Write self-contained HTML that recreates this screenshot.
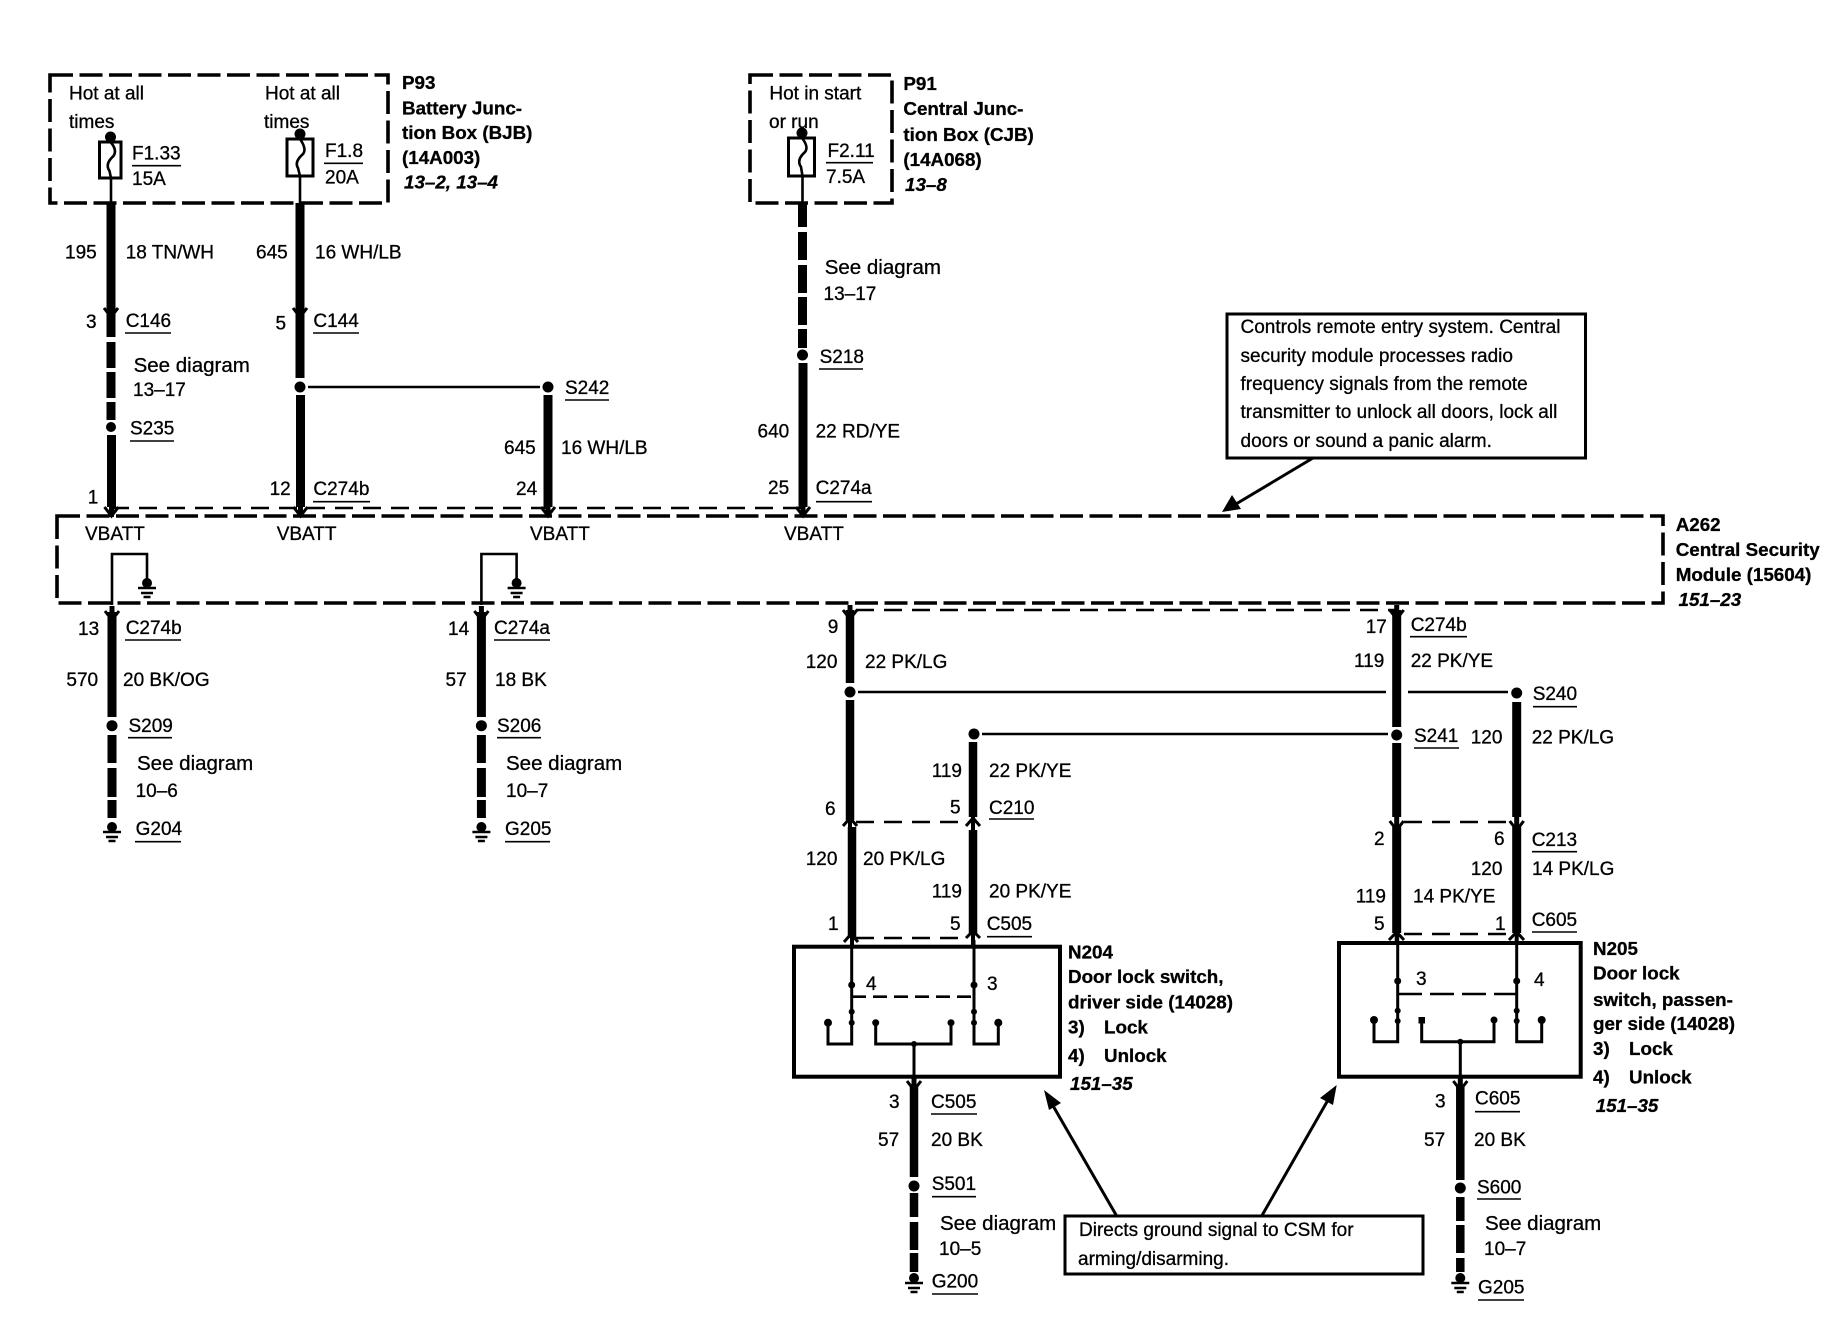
<!DOCTYPE html>
<html><head><meta charset="utf-8"><style>
html,body{margin:0;padding:0;background:#fff}
svg{display:block}
text{font-family:"Liberation Sans",sans-serif;font-size:19px;fill:#000;stroke:#000;stroke-width:.3}
.b{font-weight:bold;font-size:18.8px;stroke-width:.3}
.i{font-weight:bold;font-style:italic;font-size:18.8px}
.sd{font-size:20.5px}
.t{stroke:#000;stroke-width:9;fill:none}
.w{stroke:#000;stroke-width:2.6;fill:none}
.m{stroke:#000;stroke-width:3;fill:none}
.u{stroke:#000;stroke-width:1.6;fill:none}
.d{stroke:#000;stroke-width:3.6;fill:none;stroke-dasharray:23 6.5}
.h{stroke:#000;stroke-width:2.6;fill:none;stroke-dasharray:18 10}
.a{stroke:#000;stroke-width:3;fill:none}
.s{stroke:#000;stroke-width:3;fill:none}
</style></head><body>
<svg width="1836" height="1344" viewBox="0 0 1836 1344" xmlns="http://www.w3.org/2000/svg">
<defs>
<g id="y"><path d="M-7-7L0 2L7-7" stroke="#000" stroke-width="3" fill="none"/><path d="M0-12V3" stroke="#000" stroke-width="5"/></g>
<g id="g"><circle cx="0" cy="0" r="5" fill="#000"/><path d="M-9 5H9M-6 10H6M-3.5 14H3.5" stroke="#000" stroke-width="2.4"/></g>
</defs>
<rect width="1836" height="1344" fill="#fff"/>

<!-- P93 box -->
<rect class="d" x="50" y="75" width="338" height="128"/>
<text x="69" y="99.5">Hot at all</text><text x="69" y="128">times</text>
<text x="265" y="99.5">Hot at all</text><text x="264" y="128">times</text>
<circle cx="110.5" cy="137" r="5.5"/><circle cx="300" cy="134" r="5.5"/>
<rect class="m" x="99.5" y="142" width="21.5" height="36"/>
<rect class="m" x="287" y="139" width="26" height="37"/>
<path class="w" d="M110.5 137V142q7 8 3 14q-9 8-4 15l1.5 7V203"/>
<path class="w" d="M300 134V139q7 10 3 15q-9 8-5 14l2 8V203"/>
<text x="132" y="159.5">F1.33</text><path class="u" d="M132 165.7H181"/><text x="132" y="185">15A</text>
<text x="325" y="157">F1.8</text><path class="u" d="M324 163.3H363"/><text x="325" y="183.5">20A</text>
<text class="b" x="402" y="89">P93</text>
<text class="b" x="402" y="114.5">Battery Junc-</text>
<text class="b" x="402" y="139">tion Box (BJB)</text>
<text class="b" x="402" y="164">(14A003)</text>
<text class="i" x="404" y="188.5">13–2, 13–4</text>

<!-- left wires top -->
<path class="t" d="M111 203V337M111 342V368M111 372V398M111 402V420M111.5 435V507"/>
<circle cx="111" cy="427" r="5"/>
<use href="#y" x="111" y="315"/>
<path class="t" d="M300 203V378M300.5 395V507"/>
<use href="#y" x="300" y="315"/>
<circle cx="300" cy="387" r="5.5"/>
<path class="w" d="M308 387H540"/>
<circle cx="548" cy="387" r="5.5"/>
<path class="t" d="M548 395V507"/>
<path class="t" d="M802.5 203V227M802.5 232V260M802.5 265V293M802.5 297V325M802.5 329V348M803 363V507"/>
<circle cx="802.5" cy="355" r="5.5"/>

<text x="65" y="258.5">195</text><text x="125.7" y="258.5">18 TN/WH</text>
<text x="256" y="258.5">645</text><text x="315" y="258.5">16 WH/LB</text>
<text x="86" y="328">3</text><text x="125.7" y="327">C146</text><path class="u" d="M125 333H171"/>
<text x="275.5" y="329.5">5</text><text x="313.4" y="327">C144</text><path class="u" d="M313 333H359"/>
<text class="sd" x="133.6" y="372">See diagram</text><text x="133" y="396">13–17</text>
<text x="130" y="434.5">S235</text><path class="u" d="M130 441H174"/>
<text x="565" y="394">S242</text><path class="u" d="M565 400H609"/>
<text x="504" y="454">645</text><text x="561" y="454">16 WH/LB</text>
<text x="87.7" y="503.5">1</text>
<text x="269.6" y="495">12</text><text x="313.4" y="495">C274b</text><path class="u" d="M313 501.7H370"/>
<text x="516" y="495">24</text>

<!-- P91 -->
<rect class="d" x="750" y="75" width="142" height="128"/>
<text x="769.4" y="99.5">Hot in start</text><text x="769" y="128">or run</text>
<circle cx="802" cy="133" r="5.5"/>
<rect class="m" x="788.5" y="138" width="26" height="38"/>
<path class="w" d="M802 133V138q7 9 3 14q-9 8-4 15l1.5 9V203"/>
<text x="827.5" y="157">F2.11</text><path class="u" d="M826 162.7H873"/><text x="826" y="183">7.5A</text>
<text class="b" x="903.4" y="90">P91</text>
<text class="b" x="903.4" y="115">Central Junc-</text>
<text class="b" x="903.4" y="141">tion Box (CJB)</text>
<text class="b" x="903.4" y="166">(14A068)</text>
<text class="i" x="905" y="191">13–8</text>
<text class="sd" x="824.7" y="274">See diagram</text><text x="823.5" y="300">13–17</text>
<text x="819.6" y="363">S218</text><path class="u" d="M819 369H863"/>
<text x="757.5" y="437.5">640</text><text x="815.6" y="437.5">22 RD/YE</text>
<text x="768" y="494">25</text><text x="815.6" y="494">C274a</text><path class="u" d="M816 501.7H872"/>

<!-- note 1 -->
<rect class="s" x="1227" y="314" width="358.5" height="144"/>
<text x="1240.5" y="333">Controls remote entry system. Central</text>
<text x="1240.5" y="362">security module processes radio</text>
<text x="1240.5" y="390">frequency signals from the remote</text>
<text x="1240.5" y="418">transmitter to unlock all doors, lock all</text>
<text x="1240.5" y="447">doors or sound a panic alarm.</text>
<path class="a" d="M1313 458L1236 504"/>
<path d="M1222 512L1232 495L1241 509Z" fill="#000"/>

<!-- module -->
<rect class="d" x="57" y="516" width="1606" height="87"/>
<path class="h" d="M111 508H806"/>
<path class="h" d="M856 610H1397"/>
<use href="#y" x="111.5" y="514"/><use href="#y" x="300.5" y="514"/><use href="#y" x="548" y="514"/><use href="#y" x="803" y="514"/>
<text x="85" y="540">VBATT</text><text x="276.7" y="540">VBATT</text><text x="530" y="540">VBATT</text><text x="784" y="540">VBATT</text>
<text class="b" x="1675.7" y="531">A262</text>
<text class="b" x="1675.7" y="556">Central Security</text>
<text class="b" x="1675.7" y="581">Module (15604)</text>
<text class="i" x="1678.5" y="606">151–23</text>

<!-- lower left -->
<path class="w" d="M112 605V554H147V583"/>
<path class="w" d="M481.4 605V554H516.6V583"/>
<use href="#g" x="147" y="583"/><use href="#g" x="516.6" y="583"/>
<path class="t" d="M112 612V717M112 735V763M112 768V797M112 800V818"/>
<path class="t" d="M481.4 612V717M481.4 735V763M481.4 768V797M481.4 800V818"/>
<use href="#y" x="112" y="618"/><use href="#y" x="481.4" y="618"/>
<circle cx="112" cy="725.7" r="5.5"/><circle cx="481.4" cy="725.7" r="5.5"/>
<use href="#g" x="112" y="827"/><use href="#g" x="481.4" y="827"/>
<text x="78" y="635">13</text><text x="125.7" y="634">C274b</text><path class="u" d="M125 640H181"/>
<text x="448" y="635">14</text><text x="494" y="634">C274a</text><path class="u" d="M494 640H550"/>
<text x="66.4" y="686">570</text><text x="123" y="686">20 BK/OG</text>
<text x="445.5" y="686">57</text><text x="495" y="686">18 BK</text>
<text x="128.5" y="732">S209</text><path class="u" d="M128 737.7H172"/>
<text x="497" y="732">S206</text><path class="u" d="M497 737.7H541"/>
<text class="sd" x="137" y="770">See diagram</text><text x="135.6" y="797">10–6</text>
<text class="sd" x="506" y="770">See diagram</text><text x="506" y="797">10–7</text>
<text x="135.6" y="835">G204</text><path class="u" d="M135 841.7H181"/>
<text x="505" y="835">G205</text><path class="u" d="M505 841.7H550"/>

<!-- middle wires -->
<path class="t" style="stroke-width:8.5" d="M850 610V683M850 700V820M852 827V938"/>
<use href="#y" x="850" y="617"/>
<circle cx="850" cy="692" r="5.5"/>
<path class="w" d="M858 692H1386M1408 692H1508"/>
<circle cx="974" cy="734" r="5.5"/>
<path class="w" d="M982 734H1388"/>
<path class="t" style="stroke-width:8.500" d="M973 742V817M973 830V933"/>
<path class="h" d="M856 822H968M856 938H968"/>
<path d="M850 815V830M973 815V832M852 934V948M973 930V948" stroke="#000" stroke-width="4" fill="none"/>
<path d="M843 826L850 818L857 826M966 826L973 818L980 826M844 942L851 934L858 942M966 938L973 931L980 938" stroke="#000" stroke-width="3" fill="none"/>
<text x="827.7" y="633">9</text><text x="805.7" y="668">120</text><text x="865" y="668">22 PK/LG</text>
<text x="931.7" y="777">119</text><text x="989" y="777">22 PK/YE</text>
<text x="825" y="815">6</text><text x="950" y="813.7">5</text>
<text x="989" y="814">C210</text><path class="u" d="M989 819H1034"/>
<text x="805.7" y="865">120</text><text x="863" y="865">20 PK/LG</text>
<text x="931.7" y="897.5">119</text><text x="989" y="897.5">20 PK/YE</text>
<text x="828" y="930">1</text><text x="950" y="930">5</text>
<text x="986.7" y="930">C505</text><path class="u" d="M987 936.7H1032"/>

<!-- N204 -->
<rect x="794" y="946.7" width="266" height="130" fill="none" stroke="#000" stroke-width="4"/>
<path class="m" d="M851.7 940V1044H828V1022.7"/>
<path class="m" d="M974 940V1044H998.3V1022.7"/>
<path class="m" d="M875.7 1022.7V1044H951V1022.7M914 1044V1085"/>
<path class="h" style="stroke-dasharray:14 7" d="M852 996.7H974"/>
<g><circle cx="851.7" cy="985" r="3.5"/><circle cx="974" cy="985" r="3.5"/><circle cx="851.7" cy="1011.7" r="3"/><circle cx="974" cy="1011.7" r="3"/><circle cx="851.7" cy="1022.7" r="3"/><circle cx="974" cy="1022.7" r="3"/><circle cx="828" cy="1022.7" r="4"/><circle cx="875.7" cy="1022.7" r="3.5"/><circle cx="951" cy="1022.7" r="3.5"/><circle cx="998.3" cy="1022.7" r="4"/><circle cx="914" cy="1044" r="3"/></g>
<text x="866" y="990">4</text><text x="987" y="990">3</text>
<text class="b" x="1068" y="958.5">N204</text>
<text class="b" x="1068" y="983">Door lock switch,</text>
<text class="b" x="1068" y="1008.5">driver side (14028)</text>
<text class="b" x="1068" y="1033.5">3)</text><text class="b" x="1104" y="1033.5">Lock</text>
<text class="b" x="1068" y="1062">4)</text><text class="b" x="1104" y="1062">Unlock</text>
<text class="i" x="1070" y="1090">151–35</text>

<path class="t" style="stroke-width:8.5" d="M914 1086V1177M914 1193V1217M914 1222V1250M914 1253V1272"/>
<use href="#y" x="914" y="1088"/>
<circle cx="914" cy="1186" r="5.5"/>
<use href="#g" x="914" y="1278"/>
<text x="889" y="1108">3</text><text x="931" y="1108">C505</text><path class="u" d="M931 1114H977"/>
<text x="878" y="1146">57</text><text x="931" y="1146">20 BK</text>
<text x="931.7" y="1190">S501</text><path class="u" d="M932 1196.7H976"/>
<text class="sd" x="940" y="1230">See diagram</text><text x="939" y="1255">10–5</text>
<text x="931.7" y="1287.5">G200</text><path class="u" d="M932 1294H978"/>

<!-- right wires -->
<path class="t" d="M1396.7 610V727M1396.7 743V817M1396.7 827V933"/>
<use href="#y" x="1396.7" y="617"/>
<circle cx="1396.7" cy="735" r="5.5"/>
<circle cx="1516.7" cy="693" r="5.5"/>
<path class="t" d="M1516.7 702V817M1516.7 827V933"/>
<use href="#y" x="1396.7" y="828"/><use href="#y" x="1516.7" y="828"/>
<path class="h" d="M1404 822H1510M1404 934H1510"/>
<path d="M1396.7 930V945M1516.7 930V945" stroke="#000" stroke-width="4" fill="none"/>
<path d="M1389 940L1396.7 932L1404 940M1509 940L1516.7 932L1524 940" stroke="#000" stroke-width="3" fill="none"/>
<text x="1410.7" y="631">C274b</text><path class="u" d="M1410 636.7H1467"/>
<text x="1365.7" y="633">17</text><text x="1354" y="667">119</text><text x="1410.7" y="667">22 PK/YE</text>
<text x="1532.7" y="700">S240</text><path class="u" d="M1533 706.7H1577"/>
<text x="1414" y="742">S241</text><path class="u" d="M1414 748H1459"/>
<text x="1470.7" y="743.5">120</text><text x="1531.7" y="743.5">22 PK/LG</text>
<text x="1374" y="845">2</text><text x="1494" y="845">6</text>
<text x="1531.7" y="846">C213</text><path class="u" d="M1532 851.7H1577"/>
<text x="1470.7" y="875">120</text><text x="1532" y="875">14 PK/LG</text>
<text x="1355.7" y="902.5">119</text><text x="1413" y="902.5">14 PK/YE</text>
<text x="1374" y="930">5</text><text x="1495" y="930">1</text>
<text x="1531.7" y="926">C605</text><path class="u" d="M1532 932H1577"/>

<!-- N205 -->
<rect x="1339" y="943" width="241.7" height="133.7" fill="none" stroke="#000" stroke-width="4"/>
<path class="m" d="M1397.7 935V1041.7H1374V1020"/>
<path class="m" d="M1516.7 935V1041.7H1541.7V1020"/>
<path class="m" d="M1421.7 1020V1041.7H1494V1020M1460.3 1041.7V1085"/>
<path class="h" style="stroke-dasharray:24 8" d="M1398 994H1517"/>
<g><circle cx="1397.7" cy="981" r="3.5"/><circle cx="1516.7" cy="981" r="3.5"/><circle cx="1397.7" cy="1010.7" r="3"/><circle cx="1516.7" cy="1010.7" r="3"/><circle cx="1397.7" cy="1021" r="3"/><circle cx="1516.7" cy="1021" r="3"/><circle cx="1374" cy="1020" r="4"/><rect x="1418.5" y="1017" width="6.5" height="6.5"/><circle cx="1494" cy="1020" r="3.5"/><circle cx="1541.7" cy="1020" r="4"/><circle cx="1460.3" cy="1041.7" r="3"/></g>
<text x="1416" y="985">3</text><text x="1534" y="986">4</text>
<text class="b" x="1593" y="955">N205</text>
<text class="b" x="1593" y="979.5">Door lock</text>
<text class="b" x="1593" y="1006">switch, passen-</text>
<text class="b" x="1593" y="1030">ger side (14028)</text>
<text class="b" x="1593" y="1055">3)</text><text class="b" x="1629" y="1055">Lock</text>
<text class="b" x="1593" y="1083.5">4)</text><text class="b" x="1629" y="1083.5">Unlock</text>
<text class="i" x="1595.7" y="1112">151–35</text>

<path class="t" style="stroke-width:8.5" d="M1460.3 1086V1180M1460.3 1197V1221M1460.3 1225V1253M1460.3 1258V1272"/>
<use href="#y" x="1460.3" y="1088"/>
<circle cx="1460.3" cy="1188" r="5.5"/>
<use href="#g" x="1460.3" y="1278"/>
<text x="1435" y="1107.5">3</text><text x="1475" y="1104.5">C605</text><path class="u" d="M1475 1111.7H1520"/>
<text x="1424" y="1146">57</text><text x="1474" y="1146">20 BK</text>
<text x="1477" y="1193.5">S600</text><path class="u" d="M1477 1199H1521"/>
<text class="sd" x="1485" y="1230">See diagram</text><text x="1484" y="1255">10–7</text>
<text x="1478" y="1293.5">G205</text><path class="u" d="M1478 1300H1524"/>

<!-- note 2 -->
<rect class="a" x="1065" y="1216" width="358" height="58"/>
<text x="1079" y="1236">Directs ground signal to CSM for</text>
<text x="1078" y="1265">arming/disarming.</text>
<path class="a" d="M1116.7 1216L1052 1104"/>
<path d="M1044 1090L1061 1103L1049 1110Z" fill="#000"/>
<path class="a" d="M1261.7 1216L1328 1100"/>
<path d="M1336.7 1085L1333 1105L1320 1098Z" fill="#000"/>
</svg>
</body></html>
